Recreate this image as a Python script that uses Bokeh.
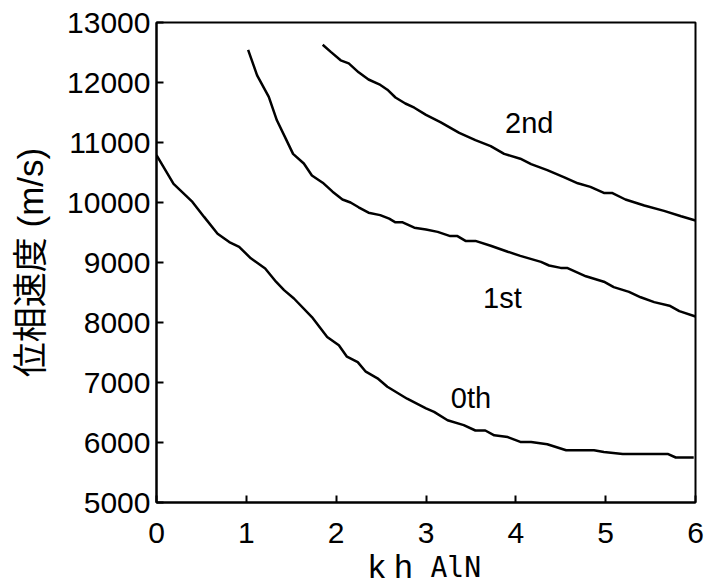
from bokeh.plotting import figure
from bokeh.layouts import column
from bokeh.models import Range1d, FixedTicker
from bokeh.embed import file_html
from bokeh.resources import INLINE
from bokeh.core.properties import value

# Phase velocity dispersion of the Lamb-type modes vs. normalised thickness k*h_AlN
k_0th = [0.00, 0.19, 0.40, 0.53, 0.68, 0.81, 0.92, 1.05, 1.21, 1.33, 1.42, 1.53, 1.73,
         1.90, 2.03, 2.12, 2.24, 2.33, 2.46, 2.57, 2.79, 3.00, 3.09, 3.24, 3.42, 3.55,
         3.66, 3.76, 3.91, 4.05, 4.17, 4.35, 4.56, 4.87, 4.98, 5.19, 5.69, 5.78, 5.98]
v_0th = [10790, 10310, 10010, 9760, 9480, 9340, 9260, 9070, 8900, 8680, 8540, 8400, 8090,
         7760, 7620, 7430, 7340, 7180, 7070, 6930, 6730, 6570, 6510, 6370, 6290, 6200,
         6200, 6120, 6090, 6010, 6010, 5970, 5870, 5870, 5840, 5810, 5810, 5750, 5750]

k_1st = [1.02, 1.12, 1.25, 1.34, 1.44, 1.52, 1.64, 1.73, 1.85, 1.96, 2.07, 2.16, 2.25,
         2.36, 2.49, 2.59, 2.66, 2.74, 2.87, 3.00, 3.13, 3.27, 3.35, 3.44, 3.55, 3.72,
         3.91, 4.05, 4.28, 4.37, 4.50, 4.57, 4.78, 4.98, 5.09, 5.26, 5.39, 5.54, 5.71,
         5.82, 6.00]
v_1st = [12545, 12120, 11760, 11370, 11060, 10810, 10650, 10450, 10330, 10180, 10050,
         10000, 9920, 9830, 9790, 9730, 9670, 9670, 9580, 9550, 9510, 9440, 9440, 9360,
         9360, 9280, 9180, 9110, 9010, 8950, 8910, 8910, 8770, 8680, 8590, 8510, 8420,
         8340, 8280, 8190, 8100]

k_2nd = [1.85, 1.94, 2.05, 2.14, 2.25, 2.36, 2.48, 2.57, 2.66, 2.77, 2.87, 3.00, 3.16,
         3.37, 3.55, 3.72, 3.87, 4.05, 4.17, 4.35, 4.54, 4.69, 4.83, 4.98, 5.07, 5.22,
         5.43, 5.65, 5.84, 6.00]
v_2nd = [12630, 12510, 12370, 12320, 12170, 12050, 11970, 11880, 11750, 11650, 11580,
         11460, 11340, 11160, 11040, 10940, 10810, 10730, 10640, 10540, 10420, 10320,
         10260, 10160, 10160, 10050, 9950, 9860, 9770, 9700]

mode_names = ["0th", "1st", "2nd"]
x_ticks = [0, 1, 2, 3, 4, 5, 6]
y_ticks = [5000, 6000, 7000, 8000, 9000, 10000, 11000, 12000, 13000]

SANS = "Liberation Sans"

p = figure(width=707, height=586, output_backend="svg", toolbar_location=None,
           x_range=Range1d(0, 6), y_range=Range1d(5000, 13000),
           min_border_left=156, min_border_right=12, min_border_top=22,
           min_border_bottom=84)

p.grid.visible = False
p.outline_line_color = "black"
p.outline_line_width = 2
p.background_fill_color = "white"
p.border_fill_color = "white"

for ax in (p.xaxis[0], p.yaxis[0]):
    ax.axis_line_width = 2
    ax.axis_line_color = "black"
    ax.major_tick_line_width = 2
    ax.major_tick_line_color = "black"
    ax.major_tick_in = 7
    ax.major_tick_out = 0
    ax.minor_tick_line_color = None
    ax.major_label_text_font = SANS
    ax.major_label_text_font_size = "30px"
    ax.major_label_text_color = "black"

p.xaxis.ticker = FixedTicker(ticks=x_ticks)
p.yaxis.ticker = FixedTicker(ticks=y_ticks)
p.xaxis.major_label_standoff = 20
p.yaxis.major_label_standoff = 6

p.yaxis.axis_label = "位相速度 (m/s)"
p.yaxis.axis_label_text_font = "Liberation Sans, Noto Sans CJK JP"
p.yaxis.axis_label_text_font_size = "35px"
p.yaxis.axis_label_text_font_style = "normal"
p.yaxis.axis_label_text_color = "black"
p.yaxis.axis_label_standoff = 14

# dispersion curves
for ks, vs in ((k_0th, v_0th), (k_1st, v_1st), (k_2nd, v_2nd)):
    p.line(ks, vs, line_color="black", line_width=2.5)

# mode annotations
p.text(x=[3.50, 3.85, 4.15], y=[6735, 8413, 11327], text=mode_names,
       text_align="center", text_baseline="middle", text_font=value(SANS),
       text_font_size="29px", text_color="black")

# x-axis title (k h with the AlN subscript), drawn on a transparent strip that
# sits over the bottom margin of the main plot and shares its k scale
strip_h = 60
q = figure(width=707, height=strip_h, output_backend="svg", toolbar_location=None,
           x_range=Range1d(0, 6), y_range=Range1d(0, strip_h),
           x_axis_type=None, y_axis_type=None,
           min_border_left=156, min_border_right=12, min_border_top=0,
           min_border_bottom=0)
q.grid.visible = False
q.outline_line_color = None
q.background_fill_alpha = 0
q.border_fill_alpha = 0
q.styles = {"margin-top": f"-{strip_h}px", "z-index": "1"}

q.text(x=[2.36], y=[20], text=["k h"], text_align="left", text_baseline="alphabetic",
       text_font=value(SANS), text_font_size="33px", text_color="black")
q.text(x=[3.05], y=[19], text=["AlN"], text_align="left", text_baseline="alphabetic",
       text_font=value("DejaVu Sans Mono"), text_font_size="28px", text_color="black")

layout = column(p, q, spacing=0)
open("out.html", "w").write(file_html(layout, INLINE))
